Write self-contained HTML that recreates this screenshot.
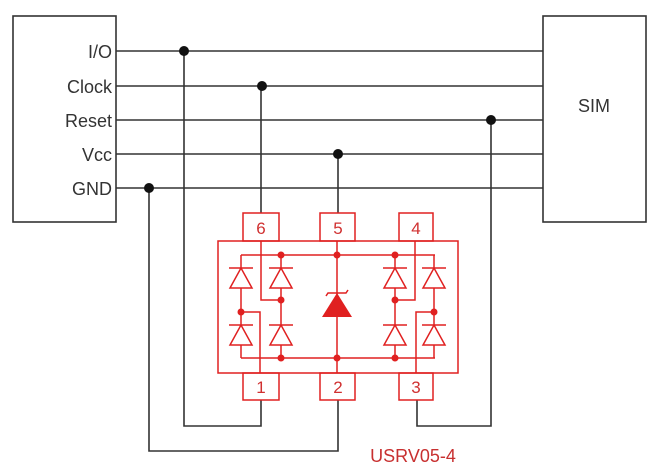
<!DOCTYPE html>
<html><head><meta charset="utf-8"><style>
html,body{margin:0;padding:0;background:#fff;}
svg{display:block;}
</style></head><body>
<svg width="660" height="476" viewBox="0 0 660 476" xmlns="http://www.w3.org/2000/svg">
<g fill="none" stroke="#333" stroke-width="1.6">
  <rect x="13" y="16" width="103" height="206"/>
  <rect x="543" y="16" width="103" height="206"/>
  <line x1="116" y1="51" x2="543" y2="51"/>
  <line x1="116" y1="86" x2="543" y2="86"/>
  <line x1="116" y1="120" x2="543" y2="120"/>
  <line x1="116" y1="154" x2="543" y2="154"/>
  <line x1="116" y1="188" x2="543" y2="188"/>
  <polyline points="184,51 184,426 261,426 261,400"/>
  <polyline points="149,188 149,451 338,451 338,400"/>
  <polyline points="491,120 491,426 417,426 417,400"/>
  <line x1="261" y1="86" x2="261" y2="213"/>
  <line x1="338" y1="154" x2="338" y2="213"/>
</g>
<g fill="#111">
  <circle cx="184" cy="51" r="5"/>
  <circle cx="262" cy="86" r="5"/>
  <circle cx="491" cy="120" r="5"/>
  <circle cx="338" cy="154" r="5"/>
  <circle cx="149" cy="188" r="5"/>
</g>
<g font-family="Liberation Sans, sans-serif" font-size="18" fill="#333" text-anchor="end">
  <text x="112" y="58">I/O</text>
  <text x="112" y="93">Clock</text>
  <text x="112" y="127">Reset</text>
  <text x="112" y="161">Vcc</text>
  <text x="112" y="195">GND</text>
</g>
<text x="594" y="112" font-family="Liberation Sans, sans-serif" font-size="18" fill="#333" text-anchor="middle">SIM</text>

<g fill="none" stroke="#e02020" stroke-width="1.5">
  <rect x="218" y="241" width="240" height="132"/>
  <rect x="243" y="213" width="36" height="28"/>
  <rect x="320" y="213" width="35" height="28"/>
  <rect x="399" y="213" width="34" height="28"/>
  <rect x="243" y="373" width="36" height="27"/>
  <rect x="320" y="373" width="35" height="27"/>
  <rect x="399" y="373" width="34" height="27"/>
  <line x1="241" y1="255" x2="435" y2="255"/>
  <line x1="241" y1="358" x2="435" y2="358"/>
  <line x1="241" y1="255" x2="241" y2="358"/>
  <line x1="281" y1="255" x2="281" y2="358"/>
  <line x1="395" y1="255" x2="395" y2="358"/>
  <line x1="434" y1="255" x2="434" y2="358"/>
  <line x1="337" y1="241" x2="337" y2="373"/>
  <polyline points="261,241 261,300 281,300"/>
  <polyline points="241,312 260,312 260,373"/>
  <polyline points="415,241 415,300 395,300"/>
  <polyline points="434,312 416,312 416,373"/>
  <polyline points="326,296 328,293 346,293 348,290"/>
</g>
<g fill="#fff" stroke="#e02020" stroke-width="1.5">
  <path d="M230,288 L252,288 L241,268 Z M229,268 L253,268"/>
  <path d="M270,288 L292,288 L281,268 Z M269,268 L293,268"/>
  <path d="M384,288 L406,288 L395,268 Z M383,268 L407,268"/>
  <path d="M423,288 L445,288 L434,268 Z M422,268 L446,268"/>
  <path d="M230,345 L252,345 L241,325 Z M229,325 L253,325"/>
  <path d="M270,345 L292,345 L281,325 Z M269,325 L293,325"/>
  <path d="M384,345 L406,345 L395,325 Z M383,325 L407,325"/>
  <path d="M423,345 L445,345 L434,325 Z M422,325 L446,325"/>
</g>
<path d="M322,317 L352,317 L337,293 Z" fill="#e02020"/>
<g fill="#e02020">
  <circle cx="281" cy="255" r="3.5"/><circle cx="337" cy="255" r="3.5"/><circle cx="395" cy="255" r="3.5"/>
  <circle cx="281" cy="358" r="3.5"/><circle cx="337" cy="358" r="3.5"/><circle cx="395" cy="358" r="3.5"/>
  <circle cx="281" cy="300" r="3.5"/><circle cx="395" cy="300" r="3.5"/>
  <circle cx="241" cy="312" r="3.5"/><circle cx="434" cy="312" r="3.5"/>
</g>
<g font-family="Liberation Sans, sans-serif" font-size="17" fill="#d03030" text-anchor="middle">
  <text x="261" y="234">6</text><text x="338" y="234">5</text><text x="416" y="234">4</text>
  <text x="261" y="393">1</text><text x="338" y="393">2</text><text x="416" y="393">3</text>
</g>
<text x="413" y="462" font-family="Liberation Sans, sans-serif" font-size="18" fill="#c83030" text-anchor="middle">USRV05-4</text>
</svg>
</body></html>
